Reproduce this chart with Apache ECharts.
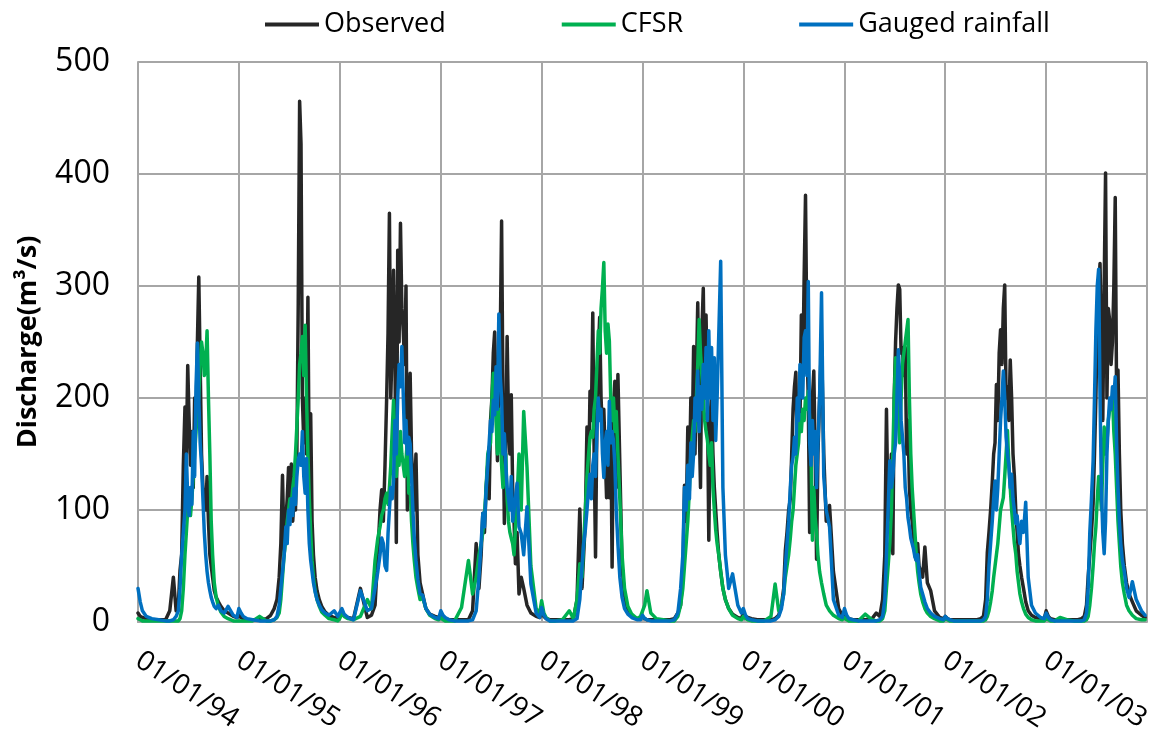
<!DOCTYPE html>
<html>
<head>
<meta charset="utf-8">
<script src="https://cdn.jsdelivr.net/npm/echarts@6/dist/echarts.min.js"></script>
<style>
  html, body { margin: 0; padding: 0; background: #fff; }
  #chart { width: 1160px; height: 734px; }
</style>
</head>
<body>
<div id="chart"></div>
<script>
// years on the axis
var years = [1994, 1995, 1996, 1997, 1998, 1999, 2000, 2001, 2002, 2003];
var tickLabels = ['01/01/94', '01/01/95', '01/01/96', '01/01/97', '01/01/98',
                  '01/01/99', '01/01/00', '01/01/01', '01/01/02', '01/01/03'];
// day of year where each reading was taken (same for every year)
var sampleDays = [0, 8, 16, 30, 50, 75, 100, 115, 128, 138,
                  146, 152, 158, 164, 170, 175, 180, 185, 190, 195,
                  200, 205, 210, 215, 220, 225, 230, 235, 240, 245,
                  250, 255, 260, 265, 270, 276, 283, 291, 300, 312,
                  326, 345, 358];

// discharge (m3/s), one row per year
var observed = [
  8,5,4,3,2,2,2,10,40,10, 15,46,60,139,192,150,229,180,140,170, 120,200,180,250,308,230,150,120,115,100, 130,90,60,50,40,28,22,18,14,10, 8,5,4,
  6,4,3,2,2,2,3,6,12,20, 40,70,131,60,90,110,138,100,141,90, 110,100,150,285,465,427,200,160,200,150, 290,120,186,90,60,40,28,20,14,9, 6,4,3,
  3,8,6,4,3,30,4,6,15,60, 100,118,90,140,200,258,365,200,250,314, 240,71,332,250,356,280,260,230,300,100, 180,222,150,130,100,150,60,35,25,12, 7,5,4,
  6,4,3,2,2,2,2,10,70,30, 60,97,80,120,141,110,180,200,240,259, 200,144,230,250,358,200,88,150,255,180, 150,203,120,90,52,80,25,40,30,15, 8,5,4,
  10,5,3,2,2,2,2,3,20,101, 30,60,90,174,130,206,180,276,150,58, 180,240,272,200,170,190,150,111,170,111, 180,49,190,215,120,221,140,50,22,10, 5,3,3,
  5,3,2,2,2,2,2,3,8,15, 40,122,90,174,130,200,160,246,150,220, 285,180,120,260,298,200,274,200,73,180, 200,150,120,100,80,60,45,30,20,12, 7,4,3,
  8,5,4,3,2,2,2,3,6,15, 30,64,80,100,110,150,190,210,223,160, 200,180,274,220,307,381,250,200,80,150, 200,224,150,56,150,200,251,150,90,104, 45,12,6,
  6,4,3,2,2,2,3,8,5,20, 60,190,90,120,150,61,200,250,280,301, 297,240,245,220,245,150,180,120,100,90, 75,60,55,70,50,45,40,67,35,28, 10,4,3,
  5,3,2,2,2,2,2,2,3,5, 20,62,80,100,125,150,160,212,180,240, 261,230,280,301,200,210,180,234,200,150, 130,100,80,60,50,40,30,18,10,6, 4,3,3,
  10,5,3,2,2,2,2,2,3,5, 15,40,60,80,106,150,200,270,300,320, 250,180,300,401,200,280,269,230,250,300, 379,200,225,150,100,70,50,35,25,18, 10,6,4
];
var cfsr = [
  3,2,1,1,1,1,1,1,1,1, 1,3,10,30,60,80,100,110,95,110, 130,150,170,190,200,230,250,240,220,230, 260,200,150,90,60,35,22,14,9,5, 3,1,1,
  2,1,1,1,1,5,1,1,2,4, 8,20,40,60,75,90,100,110,105,120, 130,150,175,200,230,240,255,220,265,200, 150,110,80,55,40,28,20,14,9,6, 3,2,1,
  3,8,5,3,2,5,20,12,55,75, 85,95,100,110,115,105,120,140,170,198, 160,130,150,140,170,150,140,130,145,162, 115,120,90,70,55,40,30,20,22,12, 6,3,2,
  4,2,1,1,1,13,55,25,40,60, 70,80,95,120,150,156,160,200,222,210, 180,150,190,170,140,120,130,150,110,90, 80,75,70,60,60,110,150,100,188,138, 50,12,8,
  19,8,4,1,1,2,10,3,20,52, 40,70,100,130,150,165,170,165,190,200, 230,260,240,280,298,321,260,240,266,251, 200,180,200,170,188,150,110,60,30,14, 7,3,5,
  5,15,28,8,3,2,1,1,5,15, 30,50,70,90,120,150,165,180,170,200, 230,270,240,220,200,180,170,162,150,140, 160,120,100,82,70,60,45,30,20,12, 6,3,2,
  5,3,2,1,1,1,5,34,10,15, 25,40,50,60,75,90,100,120,140,150, 160,185,170,190,180,200,190,206,180,150, 73,120,93,80,60,45,35,25,15,10, 6,3,2,
  4,2,1,1,1,7,2,1,1,3, 10,30,50,70,100,150,200,236,215,180, 160,200,230,230,250,260,270,200,150,120, 100,80,60,45,35,25,18,12,8,5, 3,1,1,
  3,2,1,1,1,1,1,1,1,1, 2,5,10,18,28,40,50,60,70,85, 100,100,111,130,150,171,140,120,100,85, 70,61,45,35,25,18,12,7,4,2, 1,1,1,
  3,2,1,1,4,2,1,1,1,1, 2,5,15,30,50,70,85,110,130,120, 100,140,174,150,160,180,190,195,202,170, 150,120,90,70,50,35,25,15,10,6, 3,2,2
];
var gauged = [
  30,18,10,5,3,2,1,1,2,5, 10,30,60,80,100,150,110,95,120,105, 170,130,210,249,200,160,140,110,80,60, 45,35,28,22,18,14,12,15,10,8, 14,6,4,
  12,8,5,3,2,1,1,1,2,5, 15,30,45,60,85,70,100,87,110,95, 119,105,130,145,150,140,170,130,115,146, 100,70,55,45,35,27,20,15,11,8, 6,10,5,
  5,12,7,4,2,28,10,12,30,45, 60,75,70,50,46,79,100,120,110,127, 180,150,200,230,210,246,204,160,180,150, 165,159,130,100,75,55,38,25,24,12, 7,4,3,
  10,6,4,2,1,1,1,2,10,40, 70,97,85,118,140,160,180,170,198,185, 228,190,275,220,200,150,168,140,120,110, 100,130,90,90,110,124,85,79,60,103, 34,8,4,
  13,6,3,1,1,1,1,1,3,20, 50,70,82,100,120,132,110,140,150,130, 170,200,180,190,150,129,160,170,140,197, 160,170,162,140,100,70,40,22,12,7, 4,2,2,
  6,3,2,1,1,1,1,2,8,30, 60,120,100,140,110,160,130,150,200,180, 224,170,210,190,230,200,245,180,260,200, 245,180,236,162,200,200,322,120,60,30, 43,15,8,
  12,6,3,2,1,1,1,2,5,12, 25,50,70,90,120,140,147,165,150,200, 180,230,210,200,254,260,220,304,160,140, 180,150,170,120,160,200,294,130,100,85, 20,6,4,
  12,6,3,2,1,1,1,1,2,5, 20,60,100,144,120,130,150,160,200,243, 220,180,165,150,120,110,93,85,75,70, 65,58,55,60,45,31,25,18,12,8, 5,3,2,
  5,3,2,1,1,1,1,1,1,2, 5,20,50,70,90,110,126,100,120,150, 180,200,224,200,165,150,140,120,132,110, 100,88,95,80,70,90,80,107,40,15, 8,4,3,
  8,4,2,1,1,1,1,1,1,2, 8,30,80,110,144,200,260,300,315,200, 120,80,61,90,150,180,200,190,210,200, 219,160,120,90,70,55,45,30,22,36, 20,10,6
];

var DAY = 86400000;
var origin = Date.UTC(1994, 0, 1);
var yearLen = 365.2;

// x = days since 01/01/94
function toPoints(values) {
  var pts = [];
  years.forEach(function (y, i) {
    var start = (Date.UTC(y, 0, 1) - origin) / DAY;
    sampleDays.forEach(function (d, k) {
      pts.push([start + d, values[i * sampleDays.length + k]]);
    });
  });
  return pts;
}

var font = "'Open Sans', 'Noto Sans', sans-serif";
var gridColor = '#a6a6a6';

function lineSeries(name, values, color) {
  return {
    name: name,
    type: 'line',
    data: toPoints(values),
    showSymbol: false,
    symbol: 'none',
    color: color,
    lineStyle: { width: 3.5, color: color, join: 'round', cap: 'round' }
  };
}

var chart = echarts.init(document.getElementById('chart'));
var option = {
  animation: false,
  backgroundColor: '#fff',
  legend: {
    top: 6,
    left: 260,
    icon: 'rect',
    itemWidth: 54,
    itemHeight: 4,
    itemGap: 116,
    textStyle: { fontFamily: font, fontSize: 27, color: '#000' },
    data: ['Observed', 'CFSR', 'Gauged rainfall']
  },
  grid: { left: 138, right: 13, top: 62, bottom: 112, outerBoundsMode: 'none' },
  xAxis: {
    type: 'value',
    min: 0,
    max: 3652,
    interval: yearLen,
    axisLine: { show: true, lineStyle: { color: gridColor, width: 2 } },
    axisTick: { show: false },
    splitLine: { show: true, lineStyle: { color: gridColor, width: 2 } },
    axisLabel: {
      rotate: -33,
      margin: 36,
      showMaxLabel: false,
      fontFamily: font,
      fontSize: 28,
      color: '#000',
      formatter: function (v) {
        return tickLabels[Math.round(v / yearLen)] || '';
      }
    }
  },
  yAxis: {
    type: 'value',
    min: 0,
    max: 500,
    interval: 100,
    name: 'Discharge(m³/s)',
    nameLocation: 'middle',
    nameGap: 96,
    nameTextStyle: { fontFamily: font, fontSize: 27, fontWeight: 'bold', color: '#000' },
    axisLine: { show: true, lineStyle: { color: gridColor, width: 2 } },
    axisTick: { show: false },
    splitLine: { show: true, lineStyle: { color: gridColor, width: 2 } },
    axisLabel: { margin: 28, fontFamily: font, fontSize: 32, color: '#000' }
  },
  series: [
    lineSeries('Observed', observed, '#262626'),
    lineSeries('CFSR', cfsr, '#00B050'),
    lineSeries('Gauged rainfall', gauged, '#0070C0')
  ]
};
chart.setOption(option);
</script>
</body>
</html>
